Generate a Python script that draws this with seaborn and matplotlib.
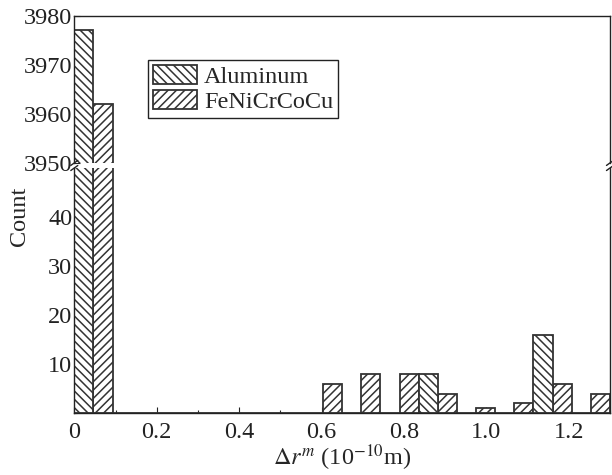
import numpy as np
import pandas as pd
import matplotlib
matplotlib.use('Agg')
import matplotlib.pyplot as plt
import seaborn as sns
from matplotlib.patches import Patch
from matplotlib.ticker import MultipleLocator, FixedLocator, FixedFormatter

# histogram of delta r^m, 14 bins between 0 and 1.3
bin_edges = list(np.linspace(0, 1.3, 15))
al_counts = [3977, 0, 0, 0, 0, 0, 0, 0, 0, 8, 0, 0, 16, 0]
fe_counts = [3962, 0, 0, 0, 0, 0, 6, 8, 8, 4, 1, 2, 6, 4]
materials = ['Aluminum', 'FeNiCrCoCu']
hatches = {'Aluminum': '\\\\\\\\', 'FeNiCrCoCu': '////'}
x_ticks = [0, 0.2, 0.4, 0.6, 0.8, 1.0, 1.2]
x_ticklabels = ['0', '0.2', '0.4', '0.6', '0.8', '1.0', '1.2']

centers = [(a + b) / 2 for a, b in zip(bin_edges[:-1], bin_edges[1:])]
df = pd.concat([
    pd.DataFrame({'dr': centers, 'count': al_counts, 'material': 'Aluminum'}),
    pd.DataFrame({'dr': centers, 'count': fe_counts, 'material': 'FeNiCrCoCu'}),
])

sns.set_style('ticks')
plt.rcParams['font.family'] = ['Liberation Serif', 'DejaVu Serif']
plt.rcParams['mathtext.fontset'] = 'stix'
plt.rcParams['hatch.linewidth'] = 1.1
plt.rcParams['axes.linewidth'] = 1.0
plt.rcParams['axes.edgecolor'] = '#222222'

edge = '#333333'
fs = 17.5

fig = plt.figure(figsize=(6.12, 4.75), dpi=100)
ax_top = fig.add_axes([0.1214, 0.657, 0.8753, 0.310])
ax_bot = fig.add_axes([0.1214, 0.130, 0.8753, 0.5163])

for ax in (ax_top, ax_bot):
    sns.histplot(data=df, x='dr', weights='count', hue='material', hue_order=materials,
                 bins=bin_edges, multiple='dodge', shrink=1, alpha=1,
                 palette={m: 'white' for m in materials}, edgecolor=edge,
                 linewidth=1.3, legend=False, ax=ax)
    for cont in ax.containers:
        first = cont.patches[0]
        mat = materials[0] if first.get_x() < 0.02 else materials[1]
        for p in cont.patches:
            p.set_hatch(hatches[mat])
            p.set_edgecolor(edge)
    ax.set_xlim(0, 1.3)
    ax.set_ylabel('')
    ax.set_xlabel('')
    ax.tick_params(axis='both', which='major', direction='in', length=4, width=0.8,
                   labelsize=fs, pad=1.5, colors='#222222')
    ax.tick_params(axis='both', which='minor', direction='in', length=2.2, width=0.8)
    ax.spines['right'].set_visible(True)
    ax.spines['top'].set_visible(True)

ax_top.set_ylim(3950, 3980)
ax_top.yaxis.set_major_locator(MultipleLocator(10))
ax_top.yaxis.set_minor_locator(MultipleLocator(5))
ax_top.spines['bottom'].set_visible(False)
ax_top.tick_params(axis='x', which='both', bottom=False, labelbottom=False)

ax_bot.set_ylim(0, 50)
ax_bot.yaxis.set_major_locator(FixedLocator([10, 20, 30, 40]))
ax_bot.yaxis.set_minor_locator(MultipleLocator(5))
ax_bot.spines['top'].set_visible(False)
ax_bot.xaxis.set_major_locator(FixedLocator(x_ticks))
ax_bot.xaxis.set_major_formatter(FixedFormatter(x_ticklabels))
ax_bot.xaxis.set_minor_locator(MultipleLocator(0.1))
ax_bot.tick_params(axis='x', which='major', pad=6)
ax_bot.set_xlabel(r'$\Delta r^{m}$ (10$^{-10}$m)', fontsize=fs, labelpad=0)

fig.text(0.032, 0.545, 'Count', rotation=90, ha='center', va='center', fontsize=fs)

# break marks
kw = dict(color='#222222', lw=1.0, clip_on=False)
for ax, y in ((ax_top, 0), (ax_bot, 1)):
    dy = 2.5 / (ax.get_position().height * 475)
    dx = 3.5 / (ax.get_position().width * 612)
    for x in (0, 1):
        ax.plot([x - dx, x + dx], [y - dy, y + dy], transform=ax.transAxes, **kw)

handles = [Patch(facecolor='white', edgecolor=edge, hatch=hatches[m], linewidth=1.3, label=m)
           for m in materials]
leg = ax_top.legend(handles=handles, loc='upper left', bbox_to_anchor=(0.138, 0.70),
                    fontsize=fs, frameon=True, fancybox=False, framealpha=1,
                    edgecolor='#222222', borderpad=0.2, labelspacing=0.08,
                    handlelength=1.8, handleheight=0.85, handletextpad=0.3,
                    borderaxespad=0)
leg.get_frame().set_linewidth(1.0)

fig.savefig('out.png', dpi=100)
